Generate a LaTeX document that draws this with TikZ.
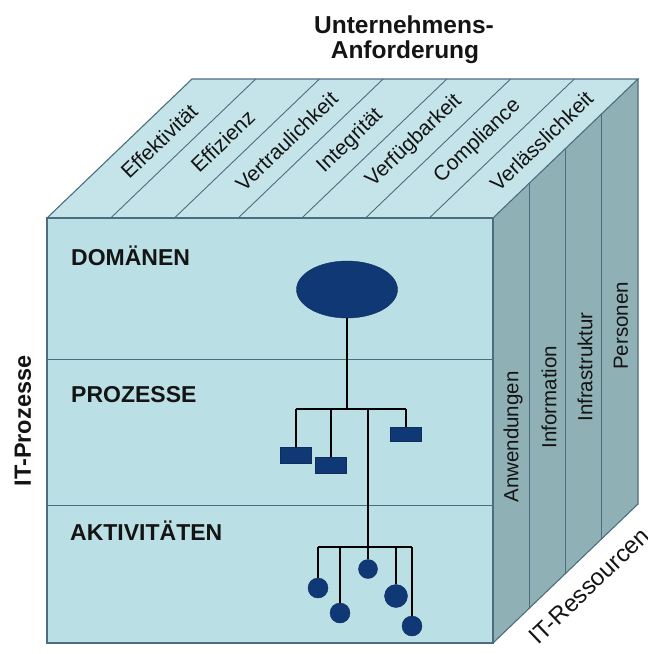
\documentclass[tikz,border=0pt]{standalone}
\usepackage{fontspec}
\setmainfont{Liberation Sans}
\usetikzlibrary{shapes.geometric}
\definecolor{frontc}{RGB}{186,223,229}
\definecolor{topc}{RGB}{196,228,233}
\definecolor{sidec}{RGB}{143,177,182}
\definecolor{edgec}{RGB}{78,108,128}
\definecolor{navy}{RGB}{16,56,116}
\definecolor{inkc}{RGB}{20,20,20}
\newcommand\myTitleFont{\fontsize{24.5}{25}\selectfont\bfseries}
\newcommand\myAxisFont{\fontsize{23.5}{25}\selectfont\bfseries}
\newcommand\myResFont{\fontsize{24}{25}\selectfont}
\newcommand\myLayerFont{\fontsize{23}{25}\selectfont\bfseries}
\newcommand\myTopFont{\fontsize{21}{24}\selectfont}
\newcommand\mySideFont{\fontsize{20.5}{24}\selectfont}
\begin{document}
\begin{tikzpicture}[x=1pt,y=-1pt,
  edge/.style={draw=edgec, line width=1.1pt},
  thinedge/.style={draw=edgec, line width=0.9pt},
  conn/.style={draw=black, line width=1.3pt},
  layer/.style={font=\myLayerFont, text=inkc, anchor=base west, inner sep=0},
  toplabel/.style={font=\myTopFont, text=inkc, rotate=43.8, inner sep=0},
  sidelabel/.style={font=\mySideFont, text=inkc, rotate=90, inner sep=0},
  procbox/.style={rectangle, fill=navy, draw=navy!80!black, minimum width=31pt, minimum height=15pt, inner sep=0},
  actdot/.style={circle, fill=navy, draw=navy!80!black, inner sep=0}
]
\useasboundingbox (0,0) rectangle (648,654);
% faces
\fill[topc] (47,218) -- (192,79) -- (638,79) -- (493,218) -- cycle;
\fill[sidec] (493,218) -- (638,79) -- (638,504) -- (493,643) -- cycle;
\fill[frontc] (47,218) rectangle (493,643);
% top strips
\foreach \i in {1,...,6} \draw[thinedge] ({47+63.714*\i},218) -- ++(145,-139);
% side strips
\foreach \i in {1,2,3} \draw[thinedge] ({493+36.25*\i},{218-34.75*\i}) -- ++(0,425);
% front dividers
\draw[thinedge] (47,359) -- (493,359);
\draw[thinedge] (47,505) -- (493,505);
% outlines
\draw[edge] (47,218) rectangle (493,643);
\draw[edge] (47,218) -- (192,79) -- (638,79) -- (493,218);
\draw[edge] (638,79) -- (638,504) -- (493,643);

% titles
\node[font=\myTitleFont, text=inkc, anchor=base, inner sep=0] (title1) at (404,33) {Unternehmens-};
\node[font=\myTitleFont, text=inkc, anchor=base, inner sep=0] (title2) at (405,58) {Anforderung};
\node[font=\myAxisFont, text=inkc, rotate=90, inner sep=0] (itp) at (23,421) {IT-Prozesse};
\node[font=\myResFont, text=inkc, rotate=43.8, inner sep=0] (itr) at (589,586) {IT-Ressourcen};

% top labels
\node[toplabel] (t1) at (159.1,141.1) {Effektivität};
\node[toplabel] (t2) at (222.8,141.1) {Effizienz};
\node[toplabel] (t3) at (286.5,141.1) {Vertraulichkeit};
\node[toplabel] (t4) at (350.2,141.1) {Integrität};
\node[toplabel] (t5) at (413.9,141.1) {Verfügbarkeit};
\node[toplabel] (t6) at (477.6,141.1) {Compliance};
\node[toplabel] (t7) at (541.4,141.1) {Verlässlichkeit};

% side labels
\node[sidelabel] (s1) at (513,437) {Anwendungen};
\node[sidelabel] (s2) at (549,397) {Information};
\node[sidelabel] (s3) at (585,367) {Infrastruktur};
\node[sidelabel] (s4) at (621,326) {Personen};

% layer labels
\node[layer] (ldom) at (71,265) {DOMÄNEN};
\node[layer] (lpro) at (71,402) {PROZESSE};
\node[layer] (lakt) at (70,540) {AKTIVITÄTEN};

% hierarchy
\node[ellipse, fill=navy, draw=navy!80!black, minimum width=101pt, minimum height=57pt, inner sep=0] (dom) at (347,289.5) {};
\node[procbox, minimum height=16pt] (p1) at (296,455) {};
\node[procbox, minimum height=16pt] (p2) at (331,465) {};
\node[procbox, minimum height=14pt] (p3) at (406,434) {};
\node[actdot, minimum size=20pt] (a1) at (318,588) {};
\node[actdot, minimum size=20pt] (a2) at (340,613) {};
\node[actdot, minimum size=19pt] (a3) at (368,569) {};
\node[actdot, minimum size=23pt] (a4) at (396,596) {};
\node[actdot, minimum size=20pt] (a5) at (412,626) {};

\coordinate (j0) at (347,409);
\coordinate (b1) at (296,409);
\coordinate (b2) at (331,409);
\coordinate (b3) at (368,409);
\coordinate (b4) at (406,409);
\coordinate (c1) at (318,547);
\coordinate (c2) at (340,547);
\coordinate (c4) at (396,547);
\coordinate (c5) at (412,547);

\draw[conn] (dom.south) -- (j0);
\draw[conn] (b1) -- (b4);
\draw[conn] (b1) -- (p1.north);
\draw[conn] (b2) -- (p2.north);
\draw[conn] (b4) -- (p3.north);
\draw[conn] (b3) -- (a3.north);
\draw[conn] (c1) -- (c5);
\draw[conn] (c1) -- (a1.north);
\draw[conn] (c2) -- (a2.north);
\draw[conn] (c4) -- (a4.north);
\draw[conn] (c5) -- (a5.north);
\end{tikzpicture}
\end{document}
